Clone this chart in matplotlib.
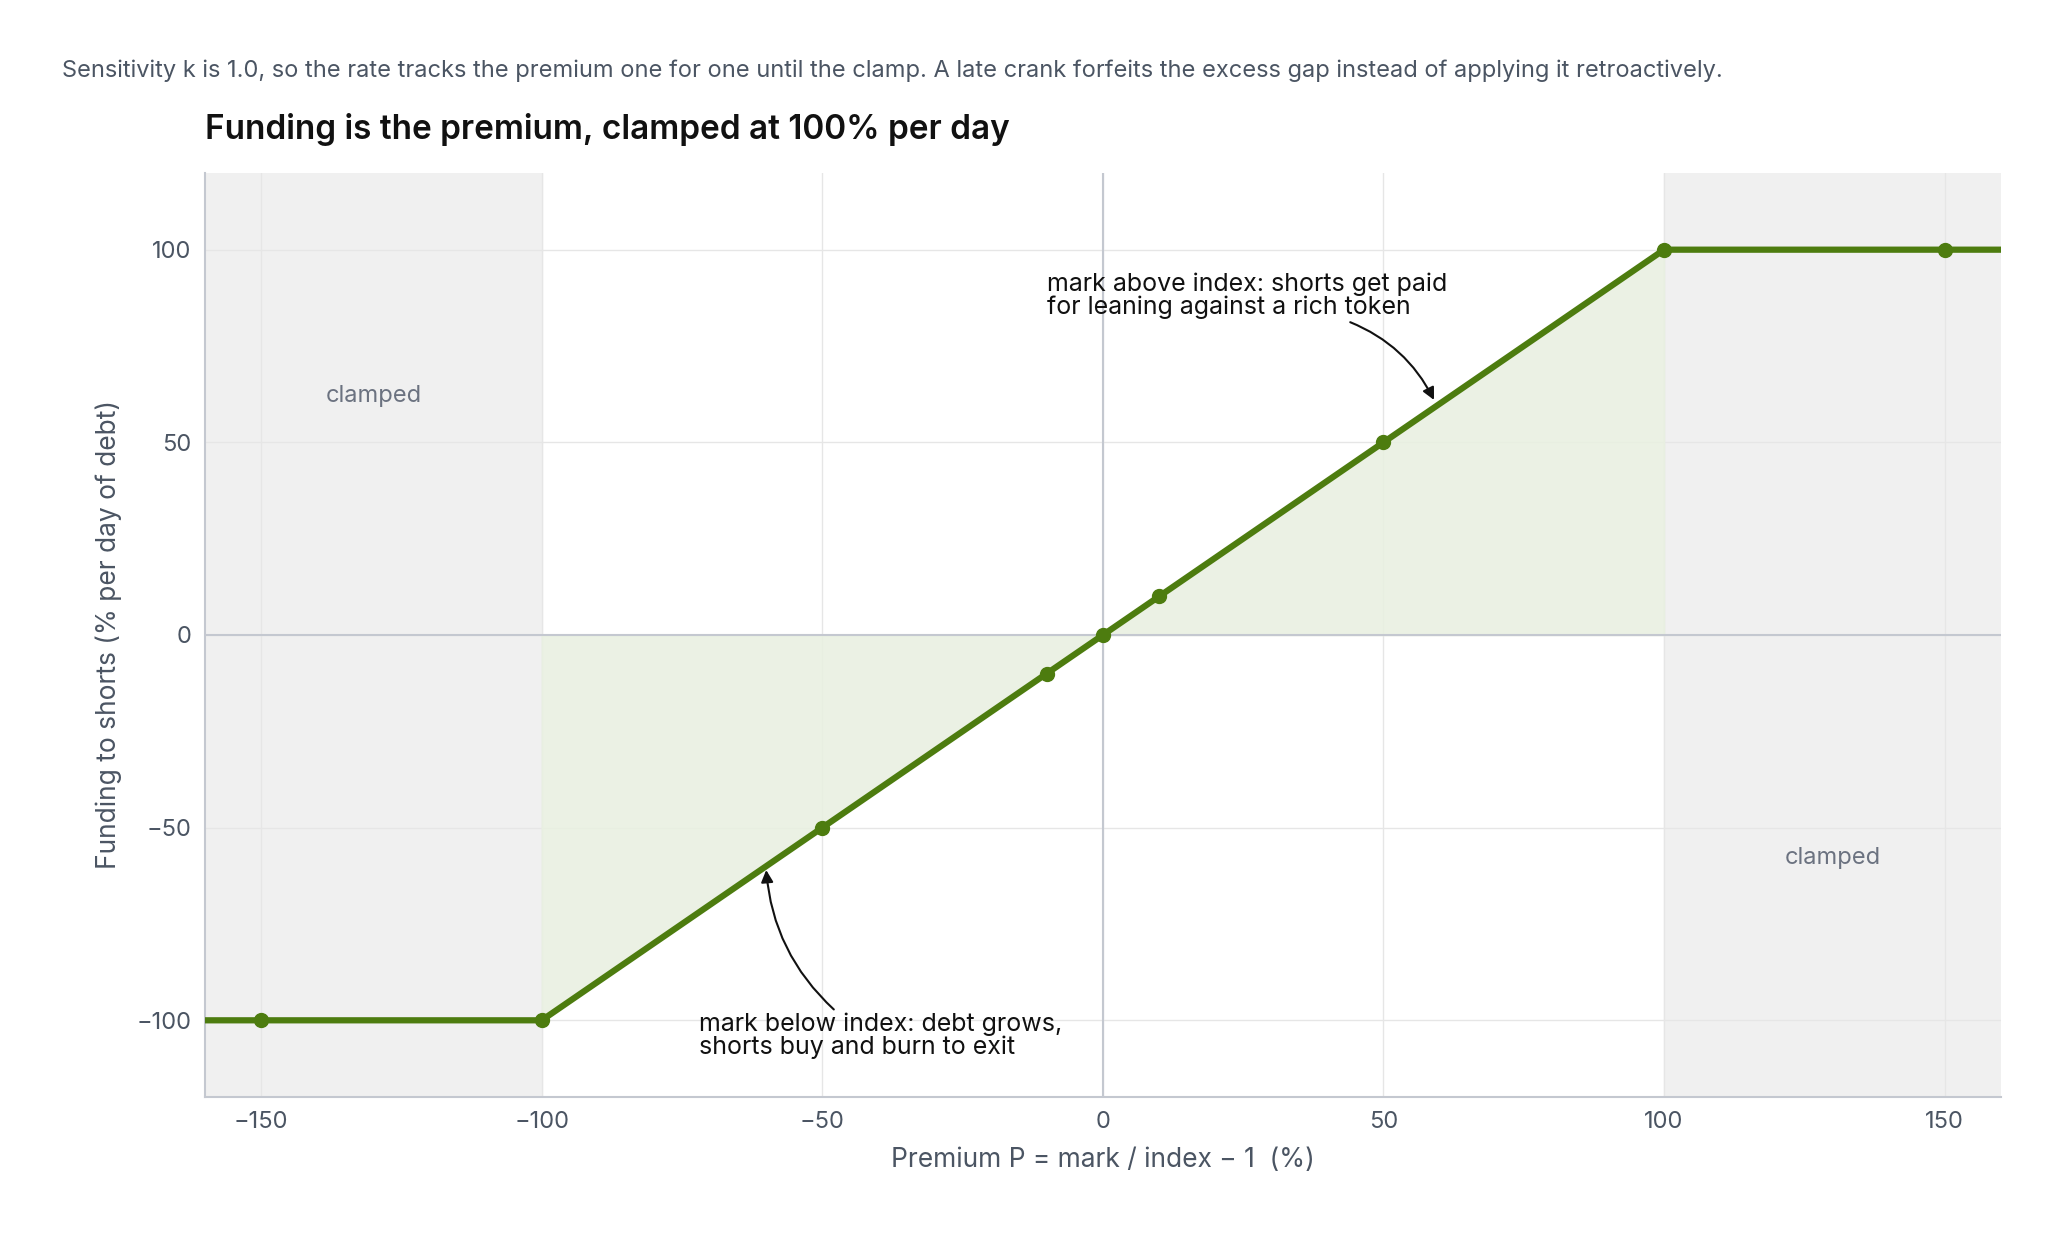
import matplotlib
matplotlib.use("Agg")
import matplotlib.pyplot as plt
import numpy as np

plt.rcParams['font.family'] = ['Inter', 'DejaVu Sans']

premium_pts = [-150, -100, -50, -10, 0, 10, 50, 100, 150]
line_x = [-160, -100, 100, 160]
k = 1.0
clamp = 100

def funding(p):
    return np.clip(k * np.asarray(p, dtype=float), -clamp, clamp)

fig = plt.figure(figsize=(20.5, 12.33), dpi=100)
ax = fig.add_axes([0.1, 0.11, 0.876, 0.75])
ax.set_xlim(-160, 160)
ax.set_ylim(-120, 120)

ax.axvspan(-160, -100, color='#f0f0f0', zorder=0)
ax.axvspan(100, 160, color='#f0f0f0', zorder=0)
fx = np.array([-100, 0, 100])
ax.fill_between(fx, funding(fx), 0, color='#e9f0e1', alpha=0.9, zorder=1)

ax.grid(True, color='#e6e6e6', lw=1, zorder=0.5)
ax.set_axisbelow(True)
ax.axhline(0, color='#c4c8d0', lw=1.5, zorder=1.5)
ax.axvline(0, color='#c4c8d0', lw=1.5, zorder=1.5)

ax.plot(line_x, funding(line_x), color='#4d7c0f', lw=4.5, zorder=3)
ax.plot(premium_pts, funding(premium_pts), 'o', color='#4d7c0f', ms=10, zorder=4)

ax.set_xticks([-150, -100, -50, 0, 50, 100, 150])
ax.set_yticks([-100, -50, 0, 50, 100])
ax.set_xticklabels(['\u2212150', '\u2212100', '\u221250', '0', '50', '100', '150'])
ax.set_yticklabels(['\u2212100', '\u221250', '0', '50', '100'])
ax.tick_params(labelsize=17, colors='#4b5563', length=0, pad=10)
for s in ['top', 'right']:
    ax.spines[s].set_visible(False)
for s in ['left', 'bottom']:
    ax.spines[s].set_color('#c4c8d0')
    ax.spines[s].set_linewidth(1.5)

ax.set_xlabel('Premium P = mark / index \u2212 1  (%)', fontsize=19, color='#4b5563', labelpad=10)
ax.set_ylabel('Funding to shorts (% per day of debt)', fontsize=19, color='#4b5563', labelpad=10)

ax.text(-130, 62, 'clamped', fontsize=17, color='#6b7280', ha='center', va='center')
ax.text(130, -58, 'clamped', fontsize=17, color='#6b7280', ha='center', va='center')

ax.annotate('mark above index: shorts get paid\nfor leaning against a rich token',
            xy=(59, 61), xytext=(-10, 88), fontsize=18, color='#111111',
            ha='left', va='center', linespacing=1.0,
            arrowprops=dict(arrowstyle='-|>', color='#111111', lw=1.5,
                            connectionstyle='arc3,rad=-0.2', mutation_scale=18,
                            shrinkA=0, shrinkB=0, relpos=(0.74, 0.0)))
ax.annotate('mark below index: debt grows,\nshorts buy and burn to exit',
            xy=(-60, -61), xytext=(-72, -104), fontsize=18, color='#111111',
            ha='left', va='center', linespacing=1.0,
            arrowprops=dict(arrowstyle='-|>', color='#111111', lw=1.5,
                            connectionstyle='arc3,rad=-0.2', mutation_scale=18,
                            shrinkA=0, shrinkB=0, relpos=(0.38, 1.0)))

fig.text(0.1, 0.895, 'Funding is the premium, clamped at 100% per day', fontsize=24,
         fontweight='semibold', color='#111111', ha='left', va='center')
fig.text(0.03, 0.943, 'Sensitivity k is 1.0, so the rate tracks the premium one for one until the clamp. '
         'A late crank forfeits the excess gap instead of applying it retroactively.',
         fontsize=17, color='#4b5563', ha='left', va='center')

fig.savefig('out.png', dpi=100, facecolor='white')
